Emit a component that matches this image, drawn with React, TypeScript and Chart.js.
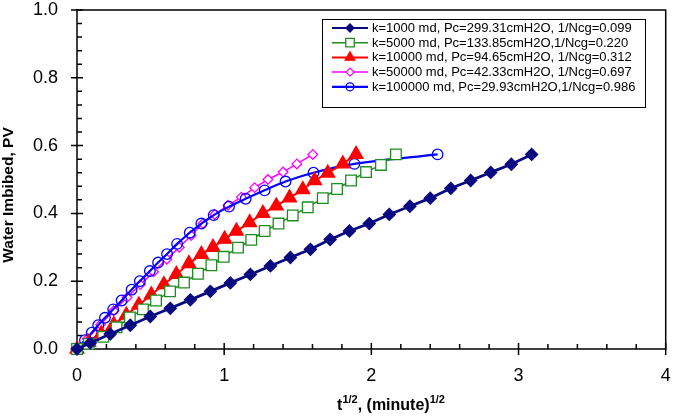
import React, { useEffect, useRef } from 'react';
import { Chart, registerables } from 'chart.js';

Chart.register(...registerables);

const seriesLabels = [
  'k=1000 md, Pc=299.31cmH2O, 1/Ncg=0.099',
  'k=5000 md, Pc=133.85cmH2O,1/Ncg=0.220',
  'k=10000 md, Pc=94.65cmH2O, 1/Ncg=0.312',
  'k=50000 md, Pc=42.33cmH2O, 1/Ncg=0.697',
  'k=100000 md, Pc=29.93cmH2O,1/Ncg=0.986',
];

const k1000X = [0, 0.09, 0.226, 0.362, 0.498, 0.634, 0.77, 0.906, 1.042, 1.178, 1.314, 1.45, 1.586, 1.72, 1.851, 1.986, 2.122, 2.262, 2.4, 2.54, 2.675, 2.811, 2.951, 3.089];
const k1000Y = [0, 0.018, 0.044, 0.07, 0.096, 0.12, 0.145, 0.17, 0.195, 0.22, 0.245, 0.27, 0.294, 0.323, 0.348, 0.37, 0.397, 0.421, 0.445, 0.474, 0.497, 0.521, 0.545, 0.574];

const k5000X = [0, 0.08, 0.178, 0.269, 0.359, 0.448, 0.537, 0.632, 0.727, 0.822, 0.913, 0.997, 1.094, 1.184, 1.275, 1.369, 1.466, 1.568, 1.67, 1.767, 1.862, 1.964, 2.065, 2.167];
const k5000Y = [0, 0.015, 0.036, 0.064, 0.093, 0.117, 0.143, 0.17, 0.196, 0.222, 0.247, 0.272, 0.299, 0.322, 0.348, 0.37, 0.394, 0.418, 0.445, 0.472, 0.497, 0.522, 0.543, 0.574];

const k10000X = [0, 0.08, 0.165, 0.25, 0.335, 0.42, 0.505, 0.59, 0.675, 0.76, 0.845, 0.924, 1.003, 1.083, 1.173, 1.263, 1.354, 1.444, 1.534, 1.614, 1.704, 1.806, 1.896];
const k10000Y = [0, 0.02, 0.045, 0.072, 0.1, 0.13, 0.16, 0.19, 0.22, 0.252, 0.279, 0.3, 0.324, 0.348, 0.373, 0.4, 0.422, 0.446, 0.47, 0.497, 0.519, 0.546, 0.574];

const k50000X = [0, 0.07, 0.16, 0.25, 0.34, 0.43, 0.52, 0.61, 0.695, 0.775, 0.856, 0.936, 1.026, 1.117, 1.207, 1.297, 1.4, 1.494, 1.602];
const k50000Y = [0, 0.03, 0.072, 0.113, 0.152, 0.19, 0.228, 0.265, 0.3, 0.335, 0.37, 0.397, 0.424, 0.448, 0.476, 0.5, 0.522, 0.546, 0.574];

const k100000X = [0, 0.054, 0.1, 0.144, 0.19, 0.246, 0.303, 0.371, 0.427, 0.495, 0.551, 0.612, 0.68, 0.766, 0.845, 0.929, 1.033, 1.146, 1.275, 1.417, 1.607, 1.885, 2.45];
const k100000Y = [0, 0.026, 0.048, 0.07, 0.092, 0.117, 0.143, 0.175, 0.2, 0.23, 0.255, 0.28, 0.31, 0.343, 0.37, 0.395, 0.42, 0.443, 0.468, 0.494, 0.52, 0.546, 0.574];

const xTickValues = [0, 1, 2, 3, 4];
const yTickValues = [0, 0.2, 0.4, 0.6, 0.8, 1.0];

const yTitle = 'Water Imbibed, PV';

const styles = [
  { color: '#0A0A80', point: 'rectRot', radius: 6, fill: '#0A0A80', width: 2.8, lr: 4 },
  { color: '#1E8C1E', point: 'rect', radius: 7.5, fill: '#FFFFFF', width: 1.5, lr: 6 },
  { color: '#FF0000', point: 'triangle', radius: 8, fill: '#FF0000', width: 2, lr: 5.5 },
  { color: '#FF00FF', point: 'rectRot', radius: 4.8, fill: '#FFFFFF', width: 1.5, lr: 4 },
  { color: '#0000FF', point: 'circle', radius: 5.3, fill: 'rgba(0,0,0,0)', width: 2.2, lr: 4 },
];

function toPoints(xs: number[], ys: number[]) {
  return xs.map((x, i) => ({ x, y: ys[i] }));
}

function drawMarker(ctx: CanvasRenderingContext2D, style: string, x: number, y: number, r: number) {
  ctx.beginPath();
  if (style === 'rectRot') {
    ctx.moveTo(x - r, y); ctx.lineTo(x, y - r); ctx.lineTo(x + r, y); ctx.lineTo(x, y + r); ctx.closePath();
  } else if (style === 'rect') {
    const s = r * Math.SQRT1_2;
    ctx.rect(x - s, y - s, 2 * s, 2 * s);
  } else if (style === 'triangle') {
    ctx.moveTo(x, y - r);
    ctx.lineTo(x + r * Math.sin(2 * Math.PI / 3), y - r * Math.cos(2 * Math.PI / 3));
    ctx.lineTo(x + r * Math.sin(4 * Math.PI / 3), y - r * Math.cos(4 * Math.PI / 3));
    ctx.closePath();
  } else {
    ctx.arc(x, y, r, 0, Math.PI * 2);
  }
}

const framePlugin = {
  id: 'frameTicks',
  beforeDatasetsDraw(chart: any) {
    const { ctx, chartArea: a, scales } = chart;
    const xs = scales.x, ys = scales.y;
    ctx.save();
    ctx.strokeStyle = '#000';
    ctx.lineWidth = 1.5;
    ctx.strokeRect(a.left, a.top, a.right - a.left, a.bottom - a.top);
    ctx.beginPath();
    for (let i = 0; i <= 25; i++) {
      const py = ys.getPixelForValue(i * 0.04);
      if (i % 5 === 0) { ctx.moveTo(a.left - 6, py); ctx.lineTo(a.left + 6, py); }
      else { ctx.moveTo(a.left, py); ctx.lineTo(a.left + 5, py); }
    }
    for (let i = 0; i <= 20; i++) {
      const px = xs.getPixelForValue(i * 0.2);
      if (i % 5 === 0) { ctx.moveTo(px, a.bottom - 6); ctx.lineTo(px, a.bottom + 6); }
      else { ctx.moveTo(px, a.bottom); ctx.lineTo(px, a.bottom - 5); }
    }
    ctx.stroke();
    ctx.restore();
  },
  afterDraw(chart: any) {
    const { ctx } = chart;
    ctx.save();
    ctx.fillStyle = '#000';
    ctx.font = 'bold 15.5px Arial, "Liberation Sans", sans-serif';
    ctx.textAlign = 'center';
    ctx.textBaseline = 'middle';
    ctx.translate(9, 195);
    ctx.rotate(-Math.PI / 2);
    ctx.fillText(yTitle, 0, 0);
    ctx.restore();

    ctx.save();
    ctx.fillStyle = '#000';
    ctx.textBaseline = 'alphabetic';
    ctx.textAlign = 'left';
    const big = 'bold 16px Arial, "Liberation Sans", sans-serif';
    const small = 'bold 11px Arial, "Liberation Sans", sans-serif';
    const parts: [string, boolean][] = [['t', false], ['1/2', true], [', (minute)', false], ['1/2', true]];
    let total = 0;
    for (const [t, sup] of parts) { ctx.font = sup ? small : big; total += ctx.measureText(t).width; }
    let cx = 391 - total / 2;
    const base = 410;
    for (const [t, sup] of parts) {
      ctx.font = sup ? small : big;
      ctx.fillText(t, cx, sup ? base - 7 : base);
      cx += ctx.measureText(t).width;
    }
    ctx.restore();

    ctx.save();
    const lx = 322, ly = 19, lw = 323, lh = 88;
    ctx.fillStyle = '#fff';
    ctx.fillRect(lx, ly, lw, lh);
    ctx.strokeStyle = '#000';
    ctx.lineWidth = 1;
    ctx.strokeRect(lx + 0.5, ly + 0.5, lw, lh);
    ctx.font = '13px Arial, "Liberation Sans", sans-serif';
    ctx.textBaseline = 'middle';
    ctx.textAlign = 'left';
    seriesLabels.forEach((label, i) => {
      const s = styles[i];
      const ry = 28 + i * 14.7;
      ctx.strokeStyle = s.color;
      ctx.lineWidth = Math.min(s.width, 2.2);
      ctx.beginPath();
      ctx.moveTo(332, ry); ctx.lineTo(368, ry);
      ctx.stroke();
      ctx.lineWidth = 1.3;
      drawMarker(ctx, s.point, 350, ry, s.lr);
      ctx.fillStyle = s.fill;
      ctx.fill();
      ctx.stroke();
      ctx.fillStyle = '#000';
      ctx.fillText(label, 372, ry + 0.5);
    });
    ctx.restore();
  },
};

function zeroPad(scale: any) {
  scale.paddingTop = 0;
  scale.paddingBottom = 0;
  scale.paddingLeft = 0;
  scale.paddingRight = 0;
}

export default function App() {
  const canvasRef = useRef<HTMLCanvasElement | null>(null);

  useEffect(() => {
    if (!canvasRef.current) return;
    Chart.defaults.font.family = 'Arial, "Liberation Sans", sans-serif';
    const xsArr = [k1000X, k5000X, k10000X, k50000X, k100000X];
    const ysArr = [k1000Y, k5000Y, k10000Y, k50000Y, k100000Y];
    const orders = [1, 2, 3, 5, 4];
    const datasets = seriesLabels.map((label, i) => {
      const s = styles[i];
      return {
        label,
        data: toPoints(xsArr[i], ysArr[i]),
        showLine: true,
        borderColor: s.color,
        backgroundColor: s.fill,
        borderWidth: s.width,
        pointStyle: s.point,
        pointRadius: s.radius,
        pointBackgroundColor: s.fill,
        pointBorderColor: s.color,
        pointBorderWidth: 1.3,
        tension: i === 4 ? 0.35 : 0,
        clip: 12,
        order: orders[i],
      };
    });
    const chart = new Chart(canvasRef.current, {
      type: 'scatter',
      data: { datasets: datasets as any },
      options: {
        animation: false,
        responsive: true,
        maintainAspectRatio: false,
        layout: { padding: { top: 10, right: 8, left: 0, bottom: 0 } },
        plugins: { legend: { display: false }, tooltip: { enabled: false } },
        scales: {
          x: {
            type: 'linear',
            min: 0,
            max: 4,
            afterFit: (scale: any) => { scale.height = 68; zeroPad(scale); },
            afterBuildTicks: (scale: any) => { scale.ticks = xTickValues.map((v) => ({ value: v })); },
            grid: { display: false, drawTicks: false },
            border: { display: false },
            ticks: { color: '#000', font: { size: 18 }, padding: 16, callback: (v: any) => String(v) },
          },
          y: {
            type: 'linear',
            min: 0,
            max: 1,
            afterFit: (scale: any) => { scale.width = 77; zeroPad(scale); },
            afterBuildTicks: (scale: any) => { scale.ticks = yTickValues.map((v) => ({ value: v })); },
            grid: { display: false, drawTicks: false },
            border: { display: false },
            ticks: { color: '#000', font: { size: 18 }, padding: 19, callback: (v: any) => Number(v).toFixed(1) },
          },
        },
      },
      plugins: [framePlugin],
    });
    return () => chart.destroy();
  }, []);

  return (
    <div style={{ position: 'fixed', left: 0, top: 0, width: 675, height: 417, background: '#fff' }}>
      <canvas ref={canvasRef} />
    </div>
  );
}
